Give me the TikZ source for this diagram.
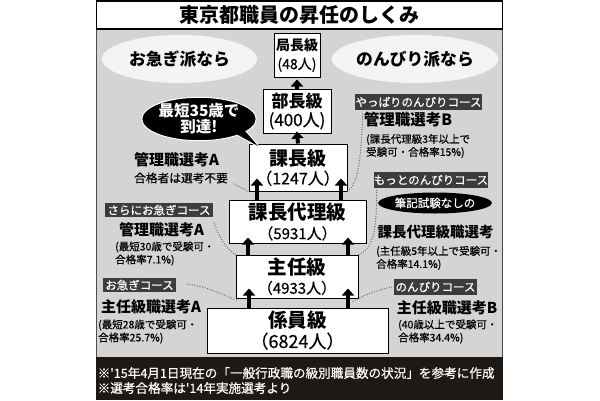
\documentclass[tikz,border=0pt]{standalone}
\usepackage{fontspec}
\setmainfont{Noto Sans CJK JP}
\newfontfamily\midjp{Noto Sans CJK JP}[FakeBold=0.5]
\usetikzlibrary{shapes.geometric,arrows.meta,calc,shadows}
\definecolor{bg}{HTML}{D4D4D4}
\definecolor{lab}{HTML}{3C3C3C}
\definecolor{band}{HTML}{1E1914}
\definecolor{ell}{HTML}{F4F4F4}
\definecolor{dotc}{HTML}{5E5E5E}
\newcommand\fsz[2]{\fontsize{#1}{#2}\selectfont}
\begin{document}
\begin{tikzpicture}[x=1pt,y=-1pt,
  box/.style={draw=black, line width=1pt, fill=white, align=center, inner sep=0pt,
    drop shadow={shadow xshift=1.2pt, shadow yshift=-1.2pt, fill=black!75, opacity=1}},
  arr/.style={line width=4pt, -{Triangle[width=12pt,length=7pt]}},
  dotline/.style={draw=dotc, line width=1.3pt, dash pattern=on 0pt off 2.6pt, line cap=round},
  tag/.style={fill=lab, text=white, inner sep=0pt, font=\midjp\fsz{11.5}{12}},
  head/.style={inner sep=0pt, font=\fsz{15}{16}\bfseries},
  small/.style={inner sep=0pt, anchor=west, align=left, font=\midjp\fsz{10.5}{13}},
  bigell/.style={ellipse, fill=ell, inner sep=0pt, minimum width=155pt, minimum height=48pt, font=\fsz{16.8}{18}\bfseries}
]
\useasboundingbox (0,0) rectangle (600,400);
\fill[white] (0,0) rectangle (600,400);
% frame
\fill[bg] (96,29) rectangle (503,400);
\draw[black!70, line width=0.8pt] (96.4,29) -- (96.4,400) (502.6,29) -- (502.6,400);
\node[draw=black, line width=1.3pt, fill=white, minimum width=406pt, minimum height=28pt, inner sep=0pt,
  font=\fsz{20}{22}\bfseries] (title) at (299.5,15) {東京都職員の昇任のしくみ};
% bottom band
\fill[band] (96,357) rectangle (503,400);
\node[inner sep=0pt, anchor=west, align=left, text=white, font=\midjp\fsz{12.6}{15}] (note) at (97.5,380.5)
  {※'15年4月1日現在の「一般行政職の級別職員数の状況」を参考に作成\\※選考合格率は'14年実施選考より};
% ellipses
\node[bigell] (fast) at (179.5,59) {お急ぎ派なら};
\node[bigell] (slow) at (415,59) {のんびり派なら};
% boxes
\node[box, minimum width=46pt, minimum height=44pt, font=\fsz{14}{19}] (kyoku) at (297,55)
  {{\bfseries 局長級}\\{\midjp (48人)}};
\node[box, minimum width=68pt, minimum height=44pt, font=\fsz{17}{19}] (bucho) at (297,111)
  {{\bfseries 部長級}\\{\midjp (400人)}};
\node[box, minimum width=98pt, minimum height=47pt, font=\fsz{16}{19}] (kacho) at (298,167.5)
  {{\fsz{19}{19}\bfseries 課長級}\\{\midjp （1247人）}};
\node[box, minimum width=137pt, minimum height=43pt, font=\fsz{15}{20}] (dairi) at (297.5,221.5)
  {{\fsz{19.5}{20}\bfseries 課長代理級}\\{\midjp （5931人）}};
\node[box, minimum width=122pt, minimum height=43pt, font=\fsz{15}{19}] (shunin) at (297,276.5)
  {{\fsz{19.5}{19}\bfseries 主任級}\\{\midjp （4933人）}};
\node[box, minimum width=181pt, minimum height=45pt, font=\fsz{18}{20}] (kakari) at (297.5,330.5)
  {{\fsz{19.5}{20}\bfseries 係員級}\\{\midjp （6824人）}};
% arrows
\draw[arr, shorten >=2pt] (bucho.north) -- (kyoku.south);
\draw[arr, shorten >=-2pt] (kacho.north) -- (bucho.south);
\draw[arr, shorten >=-13pt] ([xshift=-40.5pt]dairi.north) -- ([xshift=-41pt]kacho.south);
\draw[arr, shorten >=-13pt] ([xshift=43.5pt]dairi.north) -- ([xshift=43pt]kacho.south);
\draw[arr, shorten >=-6pt] ([xshift=-49pt]shunin.north) -- ([xshift=-49.5pt]dairi.south);
\draw[arr, shorten >=-6pt] ([xshift=51pt]shunin.north) -- ([xshift=50.5pt]dairi.south);
\draw[arr, shorten >=-10pt] ([xshift=-48.5pt]kakari.north) -- ([xshift=-48pt]shunin.south);
\draw[arr, shorten >=-10pt] ([xshift=50.5pt]kakari.north) -- ([xshift=51pt]shunin.south);
% bubble
\coordinate (tip) at (258,146);
\draw[white, line width=2pt, fill=black] (230,131) .. controls (240,136) .. (tip) .. controls (246,132) .. (238,124) -- cycle;
\node[ellipse, fill=black, draw=white, line width=1pt, inner sep=0pt, minimum width=92pt, minimum height=43pt,
  text=white, align=center, font=\fsz{15.5}{16}\bfseries] (bubble) at (199,119) {最短35歳で\\到達!};
\fill[black] (229,130) .. controls (240,136) .. (tip) .. controls (246,132) .. (237,123) -- cycle;
% left texts
\node[head] (kanriA1) at (176.5,160) {管理職選考A};
\node[inner sep=0pt, font=\midjp\fsz{11.7}{12}] (gokaku) at (181,178) {合格者は選考不要};
\node[tag, minimum width=108pt, minimum height=14.5pt] (tagSara) at (159,210) {さらにお急ぎコース};
\node[head] (kanriA2) at (161.5,230) {管理職選考A};
\node[small] (noteA2) at (115,253.5) {(最短30歳で受験可・\\合格率7.1\%)};
\node[tag, minimum width=73pt, minimum height=14.5pt] (tagIsogi) at (139.5,285) {お急ぎコース};
\node[head] (shuninA) at (151,307) {主任級職選考A};
\node[small] (noteSA) at (98,331.5) {(最短28歳で受験可・\\合格率25.7\%)};
% right texts
\node[tag, minimum width=127pt, minimum height=16pt] (tagYappari) at (418.5,102) {やっぱりのんびりコース};
\node[head, font=\fsz{15.5}{16}\bfseries] (kanriB) at (408,120) {管理職選考B};
\node[small] (noteB) at (366,146) {(課長代理級3年以上で\\受験可・合格率15\%)};
\node[tag, minimum width=112pt, minimum height=16pt] (tagMotto) at (431,180) {もっとのんびりコース};
\node[ellipse, fill=black, inner sep=0pt, minimum width=100pt, minimum height=21pt, text=white,
  font=\midjp\fsz{11.5}{12}] (hikki) at (435,203) {筆記試験なしの};
\node[head, font=\fsz{14.5}{16}\bfseries] (dairiSen) at (435.5,232) {課長代理級職選考};
\node[small] (noteDS) at (376,258) {(主任級5年以上で受験可・\\合格率14.1\%)};
\node[tag, minimum width=83pt, minimum height=16pt] (tagNonbiri) at (435.5,287) {のんびりコース};
\node[head] (shuninB) at (447,308) {主任級職選考B};
\node[small] (noteSB) at (398,331.5) {(40歳以上で受験可・\\合格率34.4\%)};
% dotted connectors
\draw[dotline] ($(gokaku.east)+(6,6)$) .. controls (242,188) .. (kacho.south west);
\draw[dotline] ($(kanriA2.east)+(10,-7)$) .. controls (220,240) and (228,251) .. ($(shunin.north west)+(2,1)$);
\draw[dotline] ($(tagIsogi.east)+(11,-1)$) .. controls (210,287) and (225,296) .. ($(shunin.south west)+(2,2)$);
\draw[dotline] ($(kanriB.west)+(-1,-6)$) .. controls (361,165) and (357,185) .. (kacho.south east);
\draw[dotline] ($(tagMotto.south west)+(3,2)$) .. controls (377,235) and (372,250) .. ($(shunin.north east)+(-2,1)$);
\draw[dotline] ($(tagNonbiri.west)+(-2,0)$) .. controls (376,290) and (363,296) .. ($(shunin.south east)+(-6,3)$);
\end{tikzpicture}
\end{document}
